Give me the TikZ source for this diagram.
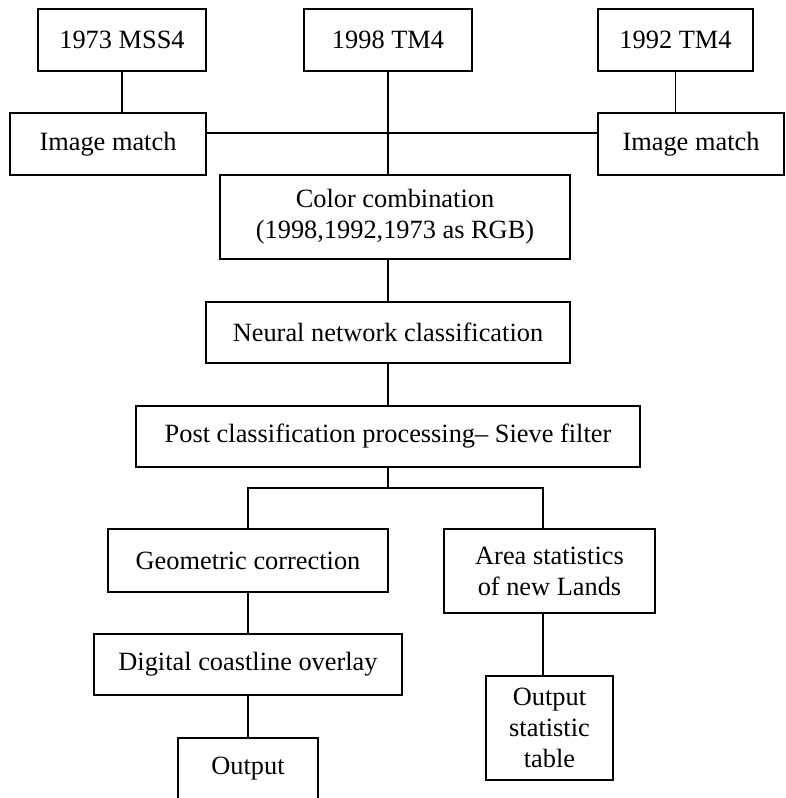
\documentclass[tikz,border=0pt]{standalone}
\usepackage{fontspec}
\setmainfont{Liberation Serif}
\usepackage{tikz}
\usetikzlibrary{positioning,calc}
\definecolor{ink}{HTML}{000000}

\begin{document}
\begin{tikzpicture}[x=1cm,y=1cm,
  blk/.style={draw=ink,line width=0.9pt,inner sep=0pt,align=center,text=ink,font=\fontsize{15}{17.6}\selectfont},
  wire/.style={draw=ink,line width=0.9pt}]
\useasboundingbox (0,0) rectangle (15.70,-15.96);
\node[blk,minimum width=3.36cm,minimum height=1.24cm] (mss) at (2.44,-0.80) {1973 MSS4};
\node[blk,minimum width=3.36cm,minimum height=1.24cm] (tmA) at (7.76,-0.80) {1998 TM4};
\node[blk,minimum width=3.10cm,minimum height=1.24cm] (tmB) at (13.51,-0.80) {1992 TM4};
\node[blk,minimum width=3.92cm,minimum height=1.24cm] (matchL) at (2.16,-2.88) {Image match};
\node[blk,minimum width=3.72cm,minimum height=1.24cm] (matchR) at (13.82,-2.88) {Image match};
\node[blk,minimum width=7.00cm,minimum height=1.68cm] (combo) at (7.90,-4.34) {Color combination\\(1998,1992,1973 as RGB)};
\node[blk,minimum width=7.28cm,minimum height=1.22cm] (neural) at (7.76,-6.65) {Neural network classification};
\node[blk,minimum width=10.08cm,minimum height=1.22cm] (post) at (7.76,-8.73) {Post classification processing-- Sieve filter};
\node[blk,minimum width=5.60cm,minimum height=1.26cm] (geo) at (4.96,-11.21) {Geometric correction};
\node[blk,minimum width=4.22cm,minimum height=1.68cm] (area) at (10.99,-11.42) {Area statistics\\of new Lands};
\node[blk,minimum width=6.16cm,minimum height=1.22cm] (coast) at (4.96,-13.29) {Digital coastline overlay};
\node[blk,minimum width=2.80cm,minimum height=1.24cm] (out) at (4.96,-15.38) {Output};
\node[blk,minimum width=2.54cm,minimum height=2.08cm] (table) at (10.99,-14.56) {Output\\statistic\\table};
\coordinate (hub) at (7.76,-2.66);
\coordinate (split) at (7.76,-9.76);
\coordinate (splitR) at (10.86,-9.76);
\draw[wire] (mss.south) -- (mss.south |- matchL.north);
\draw[wire] (tmB.south) -- (tmB.south |- matchR.north);
\draw[wire] (matchL.east |- hub) -- (matchR.west |- hub);
\draw[wire] (tmA.south) -- (tmA.south |- combo.north);
\draw[wire] (neural.north |- combo.south) -- (neural.north);
\draw[wire] (neural.south) -- (post.north);
\draw[wire] (post.south) -- (split);
\draw[wire] (geo.north) -- (geo.north |- split) -- (splitR) -- (splitR |- area.north);
\draw[wire] (geo.south) -- (coast.north);
\draw[wire] (coast.south) -- (out.north);
\draw[wire] (splitR |- area.south) -- (splitR |- table.north);
\end{tikzpicture}
\end{document}
